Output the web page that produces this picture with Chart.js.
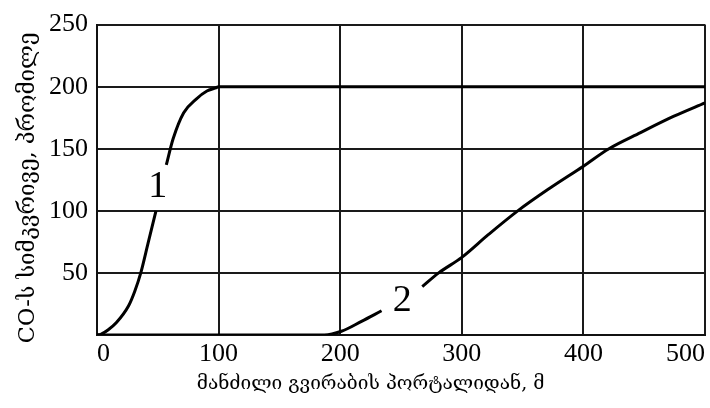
<!DOCTYPE html>
<html>
<head>
<meta charset="utf-8">
<script src="https://cdn.jsdelivr.net/npm/chart.js@4/dist/chart.umd.min.js"></script>
<style>
  html, body { margin: 0; padding: 0; background: #fff; }
  #wrap { width: 710px; height: 408px; }
</style>
</head>
<body>
<div id="wrap"><canvas id="c" width="710" height="408"></canvas></div>
<script>
// Curve 1: CO level vs. distance, rises quickly and levels off at 200
const curve1X = [0, 3, 9, 16, 26, 31, 36, 42, 48.5, 52, 57, 62.6, 71.3, 81.6, 90.4, 97.6, 100, 500];
const curve1Y = [0, 0.5, 4, 10, 23.5, 35, 50, 74, 100, null, 137, 158, 179, 190, 196.5, 199, 200, 200];

// Curve 2: stays at zero until ~190 m, then climbs slowly
const curve2X = [0, 187, 201, 217.5, 234, 250, 267.5, 281, 300, 322, 346, 372, 400, 421, 447, 474, 500];
const curve2Y = [0, 0, 3, 11, 19.5, null, 39, 50, 62.5, 81, 100, 118, 136, 150, 163, 176, 187];

// Axis ticks
const xTickValues = [0, 100, 200, 300, 400, 500];
const yTickValues = [50, 100, 150, 200, 250];

// Curve numbers written on the plot
const curveNames = ['1', '2'];
const nameX = [50, 251];
const nameY = [119, 27];

// Axis titles
const xTitle = 'მანძილი გვირაბის პორტალიდან, მ';
const yTitle = 'CO-ს სიმკვრივე, პრომილე';

const toPoints = (xs, ys) => xs.map((x, i) => ({ x: x, y: ys[i] }));

const serif = '"Liberation Serif", "DejaVu Serif", serif';
const geoFont = '"DejaVu Serif", "DejaVu Sans", sans-serif';

// Fit a title's font size so it spans the given length
function fitFont(ctx, text, target, base) {
  ctx.font = base + 'px ' + geoFont;
  const w = ctx.measureText(text).width;
  return base * target / w;
}

const annotations = {
  id: 'annotations',
  afterDatasetsDraw(chart) {
    const ctx = chart.ctx;
    const xs = chart.scales.x, ys = chart.scales.y;
    ctx.save();
    ctx.fillStyle = '#000';
    ctx.textAlign = 'center';
    ctx.textBaseline = 'middle';
    ctx.font = '38px ' + serif;
    curveNames.forEach((t, i) => {
      ctx.fillText(t, xs.getPixelForValue(nameX[i]), ys.getPixelForValue(nameY[i]));
    });
    ctx.restore();
  },
  afterDraw(chart) {
    const ctx = chart.ctx;
    const area = chart.chartArea;
    ctx.save();
    ctx.fillStyle = '#000';
    ctx.textAlign = 'center';
    ctx.textBaseline = 'middle';
    // x title
    const fx = fitFont(ctx, xTitle, 348, 20);
    ctx.font = fx.toFixed(2) + 'px ' + geoFont;
    ctx.fillText(xTitle, chart.scales.x.getPixelForValue(225), 384);
    // y title, rotated
    const fy = fitFont(ctx, yTitle, 311, 20);
    ctx.font = fy.toFixed(2) + 'px ' + geoFont;
    ctx.translate(28, (area.top + area.bottom) / 2 + 8);
    ctx.rotate(-Math.PI / 2);
    ctx.fillText(yTitle, 0, 0);
    ctx.restore();
  }
};

const lineStyle = {
  borderColor: '#000',
  borderWidth: 3,
  pointRadius: 0,
  fill: false,
  spanGaps: false,
  cubicInterpolationMode: 'monotone'
};

new Chart(document.getElementById('c'), {
  type: 'line',
  data: {
    datasets: [
      Object.assign({ label: '1', data: toPoints(curve1X, curve1Y) }, lineStyle),
      Object.assign({ label: '2', data: toPoints(curve2X, curve2Y) }, lineStyle)
    ]
  },
  options: {
    responsive: false,
    animation: false,
    layout: { padding: { top: 23, right: 5, left: 0, bottom: 0 } },
    plugins: { legend: { display: false }, tooltip: { enabled: false } },
    scales: {
      x: {
        type: 'linear',
        min: 0,
        max: 500,
        afterBuildTicks: s => { s.ticks = xTickValues.map(v => ({ value: v })); },
        afterFit: s => { s.height = 73; },
        grid: { color: '#1a1a1a', lineWidth: 2, drawTicks: false },
        border: { color: '#111', width: 2 },
        ticks: {
          align: 'inner',
          padding: 4,
          color: '#000',
          maxRotation: 0,
          autoSkip: false,
          font: { family: serif, size: 26 }
        }
      },
      y: {
        type: 'linear',
        min: 0,
        max: 250,
        afterBuildTicks: s => { s.ticks = yTickValues.map(v => ({ value: v })); },
        afterFit: s => { s.width = 97; },
        grid: { color: '#1a1a1a', lineWidth: 2, drawTicks: false },
        border: { color: '#111', width: 2 },
        ticks: {
          padding: 9,
          color: '#000',
          font: { family: serif, size: 26 }
        }
      }
    }
  },
  plugins: [annotations]
});
</script>
</body>
</html>
